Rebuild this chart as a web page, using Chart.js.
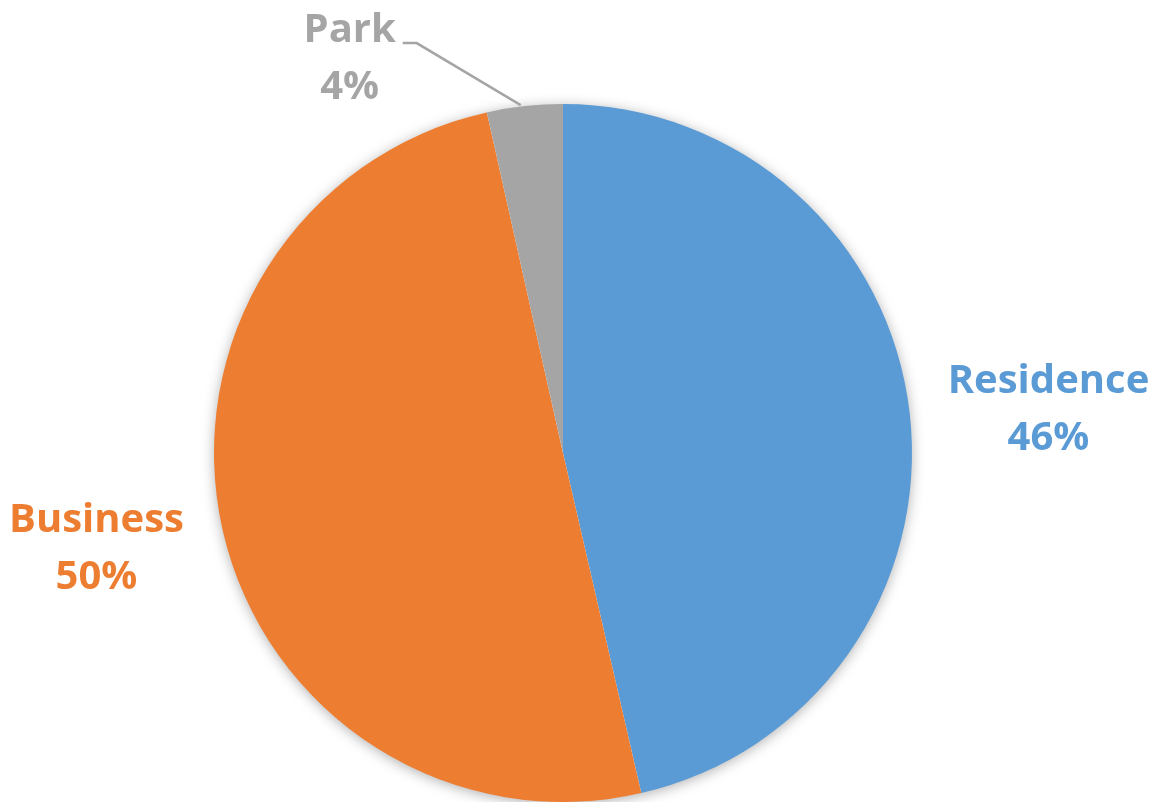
<!DOCTYPE html>
<html>
<head>
<meta charset="utf-8">
<script src="https://cdn.jsdelivr.net/npm/chart.js@4/dist/chart.umd.min.js"></script>
<style>
  html, body { margin: 0; padding: 0; background: #fff; }
  #wrap { width: 1159px; height: 802px; }
</style>
</head>
<body>
<div id="wrap"><canvas id="chart"></canvas></div>
<script>
const categories = ["Residence", "Business", "Park"];
const shares = [46.4, 50.1, 3.5];
const sliceColors = ["#5B9BD5", "#ED7D31", "#A5A5A5"];

const labelFont = "bold 40px 'Open Sans'";
// small nudges so labels sit like the Excel original
const labelNudge = [[0, 9], [10, -15], [0, 0]];

// soft shadow under the whole pie
const pieShadow = {
  id: "pieShadow",
  beforeDatasetsDraw(chart) {
    const arc = chart.getDatasetMeta(0).data[0];
    if (!arc) return;
    const ctx = chart.ctx;
    ctx.save();
    ctx.shadowColor = "rgba(0,0,0,0.35)";
    ctx.shadowBlur = 14;
    ctx.shadowOffsetY = 2;
    ctx.fillStyle = "#fff";
    ctx.beginPath();
    ctx.arc(arc.x, arc.y, arc.outerRadius - 1, 0, Math.PI * 2);
    ctx.fill();
    ctx.restore();
  }
};

// outside labels, Park gets a leader line
const sliceLabels = {
  id: "sliceLabels",
  afterDatasetsDraw(chart) {
    const ctx = chart.ctx;
    const meta = chart.getDatasetMeta(0);
    const total = shares.reduce((a, b) => a + b, 0);
    ctx.save();
    ctx.font = labelFont;
    ctx.textAlign = "center";
    ctx.textBaseline = "alphabetic";
    meta.data.forEach((arc, i) => {
      const mid = (arc.startAngle + arc.endAngle) / 2;
      const r = arc.outerRadius;
      const pct = Math.round(shares[i] / total * 100) + "%";
      let lx, ly;
      ctx.fillStyle = sliceColors[i];
      if (categories[i] === "Park") {
        const ex = arc.x + Math.cos(mid) * r;
        const ey = arc.y + Math.sin(mid) * r;
        ctx.strokeStyle = "#A5A5A5";
        ctx.lineWidth = 2.5;
        ctx.beginPath();
        ctx.moveTo(ex - 4, ey - 1);
        ctx.lineTo(ex - 108, ey - 63);
        ctx.lineTo(ex - 122, ey - 63);
        ctx.stroke();
        lx = ex - 175;
        ly = ey - 50;
      } else {
        const f = 1.4;
        lx = arc.x + Math.cos(mid) * r * f + labelNudge[i][0];
        ly = arc.y + Math.sin(mid) * r * f + labelNudge[i][1];
      }
      ctx.fillText(categories[i], lx, ly - 14);
      ctx.fillText(pct, lx, ly + 43);
    });
    ctx.restore();
  }
};

new Chart(document.getElementById("chart"), {
  type: "pie",
  data: {
    labels: categories,
    datasets: [{
      data: shares,
      backgroundColor: sliceColors,
      borderWidth: 0
    }]
  },
  options: {
    responsive: true,
    maintainAspectRatio: false,
    animation: false,
    layout: {
      padding: { top: 104, bottom: 0, left: 214, right: 247 }
    },
    plugins: {
      legend: { display: false },
      tooltip: { enabled: false }
    }
  },
  plugins: [pieShadow, sliceLabels]
});
</script>
</body>
</html>
